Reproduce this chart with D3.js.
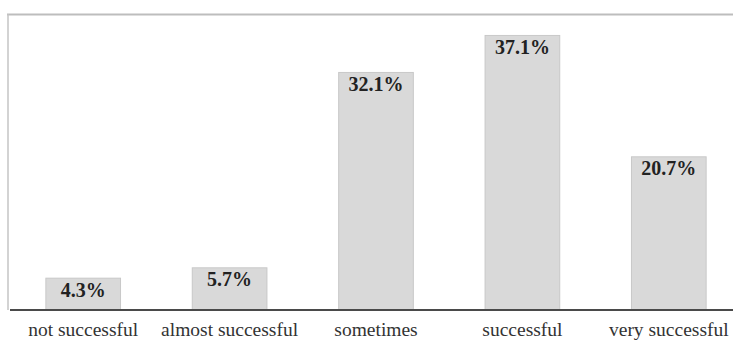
<!DOCTYPE html>
<html>
<head>
<meta charset="utf-8">
<script src="https://cdn.jsdelivr.net/npm/d3@7"></script>
<style>
  body { margin: 0; background: #fff; }
  svg { display: block; }
</style>
</head>
<body>
<svg id="chart"></svg>
<script>
// chart data
const categories = ["not successful", "almost successful", "sometimes", "successful", "very successful"];
const percents = [4.3, 5.7, 32.1, 37.1, 20.7];
const valueLabels = ["4.3%", "5.7%", "32.1%", "37.1%", "20.7%"];

const width = 733, height = 341;
const margin = {top: 14, bottom: 31, left: 10, right: -9};
const serif = "\"Liberation Serif\", \"Times New Roman\", serif";

const svg = d3.select("#chart")
    .attr("width", width)
    .attr("height", height);

const x = d3.scaleBand()
    .domain(categories)
    .range([margin.left, width - margin.right])
    .paddingInner(0.49)
    .paddingOuter(0.245);

const y = d3.scaleLinear()
    .domain([0, 40])
    .range([height - margin.bottom, margin.top]);

// plot frame (top + left)
svg.append("line")
    .attr("x1", 7).attr("x2", width)
    .attr("y1", y(40) + 0.5).attr("y2", y(40) + 0.5)
    .attr("stroke", "#bdbdbd")
    .attr("stroke-width", 2);

svg.append("line")
    .attr("x1", 8).attr("x2", 8)
    .attr("y1", y(40)).attr("y2", y(0))
    .attr("stroke", "#c4c4c4")
    .attr("stroke-width", 1.5);

// bars
svg.selectAll(".bar")
    .data(percents)
    .enter().append("rect")
    .attr("class", "bar")
    .attr("x", (d, i) => x(categories[i]))
    .attr("y", d => y(d))
    .attr("width", x.bandwidth())
    .attr("height", d => y(0) - y(d))
    .attr("fill", "#d9d9d9")
    .attr("stroke", "#c8c8c8")
    .attr("stroke-width", 1);

// baseline
svg.append("line")
    .attr("x1", 10).attr("x2", width)
    .attr("y1", y(0)).attr("y2", y(0))
    .attr("stroke", "#4a4a4a")
    .attr("stroke-width", 2);

// value labels
svg.selectAll(".value")
    .data(percents)
    .enter().append("text")
    .attr("class", "value")
    .attr("x", (d, i) => x(categories[i]) + x.bandwidth() / 2)
    .attr("y", d => y(d) + 18.5)
    .attr("text-anchor", "middle")
    .attr("font-family", serif)
    .attr("font-weight", "bold")
    .attr("font-size", 20)
    .attr("fill", "#222")
    .text((d, i) => valueLabels[i]);

// category labels
svg.append("g")
    .attr("transform", `translate(0,${y(0)})`)
    .call(d3.axisBottom(x).tickSize(0))
    .call(g => g.select(".domain").remove())
    .attr("font-family", serif)
    .attr("font-size", 19.5)
    .selectAll("text")
    .attr("y", 26)
    .attr("dy", null)
    .attr("fill", "#333");
</script>
</body>
</html>
